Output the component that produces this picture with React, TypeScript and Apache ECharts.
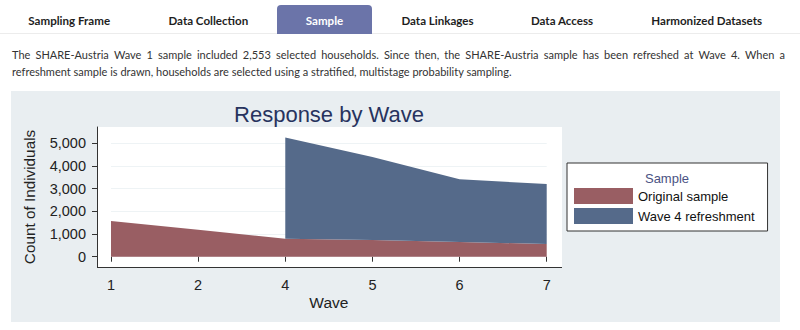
import React, { useEffect, useRef } from 'react';
import * as echarts from 'echarts';

const waves = ['1', '2', '4', '5', '6', '7'];
const originalSample = [1575, 1190, 795, 736, 648, 560];
const wave4Refreshment: (number | string)[] = ['-', '-', 4460, 3659, 2765, 2645];
const yTicks = [0, 1000, 2000, 3000, 4000, 5000];
const tabs = ['Sampling Frame', 'Data Collection', 'Sample', 'Data Linkages', 'Data Access', 'Harmonized Datasets'];
const activeTab = 'Sample';
const intro = [
  'The SHARE-Austria Wave 1 sample included 2,553 selected households. Since then, the SHARE-Austria sample has been refreshed at Wave 4. When a',
  'refreshment sample is drawn, households are selected using a stratified, multistage probability sampling.',
];

const tabCenters = [69.2, 208.3, 324.5, 437.5, 562, 706.7];
const RED = '#995e63';
const BLUE = '#556a8a';
const FONT = 'Liberation Sans, Arial, sans-serif';
const PARA_FONT = '12px Lato, sans-serif';
const PARA_SCALE = 0.918;
const PARA_LEFT = 12;
const PARA_RIGHT = 785;

function measure(text: string): number {
  const c = document.createElement('canvas').getContext('2d');
  if (!c) return text.length * 6;
  c.font = PARA_FONT;
  return c.measureText(text).width;
}

export default function App() {
  const ref = useRef<HTMLDivElement>(null);
  useEffect(() => {
    if (!ref.current) return;
    const chart = echarts.init(ref.current, undefined, { renderer: 'svg' });
    const graphics: any[] = [
      { type: 'rect', z: -10, shape: { x: 11, y: 91, width: 769, height: 231 }, style: { fill: '#e9eef1' }, silent: true },
      { type: 'rect', z: -5, shape: { x: 97, y: 127, width: 465, height: 140 }, style: { fill: '#ffffff' }, silent: true },
      { type: 'line', z: 5, shape: { x1: 97, y1: 267.5, x2: 562, y2: 267.5 }, style: { stroke: '#333333', lineWidth: 1 }, silent: true },
      { type: 'line', shape: { x1: 0, y1: 33.5, x2: 800, y2: 33.5 }, style: { stroke: '#ececec', lineWidth: 1 } },
      { type: 'rect', shape: { x: 277, y: 5, width: 95, height: 29, r: [4, 4, 0, 0] }, style: { fill: '#6b74a9' } },
    ];
    tabs.forEach((t, i) => {
      graphics.push({
        type: 'text',
        x: tabCenters[i],
        y: 20,
        scaleX: 0.965,
        style: {
          text: t,
          fontFamily: 'Lato, sans-serif',
          fontWeight: 'bold',
          fontSize: 12,
          fill: t === activeTab ? '#ffffff' : '#1e1e1e',
          align: 'center',
          verticalAlign: 'middle',
        },
      });
    });
    const paraStyle = { fontFamily: 'Lato, sans-serif', fontSize: 12, fill: '#333333', align: 'left', verticalAlign: 'middle' };
    // line 1 is justified across the text column
    const words = intro[0].split(' ');
    const widths = words.map((w) => measure(w) * PARA_SCALE);
    const total = widths.reduce((a, b) => a + b, 0);
    const gap = (PARA_RIGHT - PARA_LEFT - total) / (words.length - 1);
    let cx = PARA_LEFT;
    words.forEach((w, i) => {
      graphics.push({ type: 'text', x: cx, y: 54, scaleX: PARA_SCALE, style: { ...paraStyle, text: w } });
      cx += widths[i] + gap;
    });
    graphics.push({ type: 'text', x: PARA_LEFT, y: 71, scaleX: PARA_SCALE, style: { ...paraStyle, text: intro[1] } });
    graphics.push({
      type: 'text',
      x: 329,
      y: 114,
      style: { text: 'Response by Wave', fontFamily: FONT, fontSize: 22, fill: '#27335e', align: 'center', verticalAlign: 'middle' },
    });
    graphics.push({
      type: 'text',
      z: 100,
      x: 667,
      y: 178,
      style: { text: 'Sample', fontFamily: FONT, fontSize: 13, fill: '#4a5283', align: 'center', verticalAlign: 'middle' },
    });

    chart.setOption({
      animation: false,
      graphic: graphics,
      grid: { left: 111, right: 253.3, top: 127, bottom: 63, show: false, containLabel: false },
      legend: {
        orient: 'vertical',
        left: 567,
        top: 163,
        padding: [25, 13, 7, 7],
        itemWidth: 59,
        itemHeight: 16,
        itemGap: 4,
        icon: 'rect',
        backgroundColor: '#ffffff',
        borderColor: '#333333',
        borderWidth: 1,
        borderRadius: 0,
        textStyle: { fontFamily: FONT, fontSize: 13, color: '#111111' },
        data: ['Original sample', 'Wave 4 refreshment'],
      },
      xAxis: {
        type: 'category',
        data: waves,
        boundaryGap: false,
        name: 'Wave',
        nameLocation: 'middle',
        nameGap: 27,
        nameTextStyle: { fontFamily: FONT, fontSize: 15.5, color: '#222222' },
        axisLine: { show: false },
        axisTick: { show: true, length: 5, lineStyle: { color: '#333333' } },
        axisLabel: { margin: 10, fontFamily: FONT, fontSize: 14.5, color: '#222222' },
        splitLine: { show: false },
      },
      yAxis: {
        type: 'value',
        min: -454,
        max: 5720,
        offset: 14,
        name: 'Count of Individuals',
        nameLocation: 'middle',
        nameGap: 60,
        nameTextStyle: { fontFamily: FONT, fontSize: 15.3, color: '#222222' },
        axisLine: { show: true, lineStyle: { color: '#333333', width: 1 } },
        axisTick: { show: true, length: 5, customValues: yTicks, lineStyle: { color: '#333333' } },
        axisLabel: {
          customValues: yTicks,
          margin: 11,
          fontFamily: FONT,
          fontSize: 14.5,
          color: '#222222',
          formatter: (v: number) => v.toLocaleString('en-US'),
        },
        splitLine: { show: true, lineStyle: { color: '#eef3f5', width: 1 } },
      },
      series: [
        {
          name: 'Original sample',
          type: 'line',
          stack: 'total',
          data: originalSample,
          showSymbol: false,
          lineStyle: { width: 0 },
          areaStyle: { color: RED, opacity: 1 },
          itemStyle: { color: RED },
        },
        {
          name: 'Wave 4 refreshment',
          type: 'line',
          stack: 'total',
          data: wave4Refreshment,
          showSymbol: false,
          lineStyle: { width: 0 },
          areaStyle: { color: BLUE, opacity: 1 },
          itemStyle: { color: BLUE },
        },
      ],
    });
    return () => chart.dispose();
  }, []);
  return <div ref={ref} style={{ position: 'absolute', left: 0, top: 0, width: 800, height: 330 }} />;
}
